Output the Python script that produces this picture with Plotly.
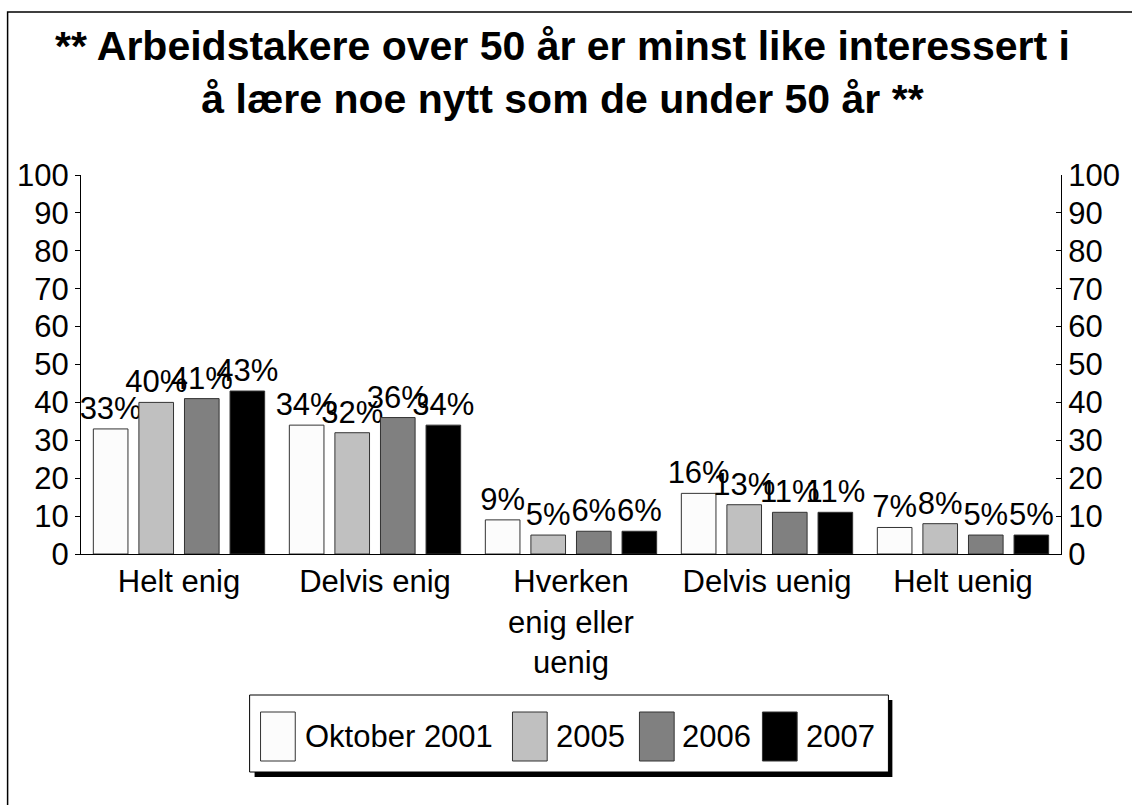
import plotly.graph_objects as go

# Survey answers, share of respondents (%)
categories = ["Helt enig", "Delvis enig", "Hverken<br>enig eller<br>uenig", "Delvis uenig", "Helt uenig"]
series_names = ["Oktober 2001", "2005", "2006", "2007"]
okt_2001 = [33, 34, 9, 16, 7]
y_2005 = [40, 32, 5, 13, 8]
y_2006 = [41, 36, 6, 11, 5]
y_2007 = [43, 34, 6, 11, 5]
y_ticks = [0, 10, 20, 30, 40, 50, 60, 70, 80, 90, 100]

series_values = [okt_2001, y_2005, y_2006, y_2007]
fills = ["#fcfcfc", "#c0c0c0", "#808080", "#000000"]

W, H = 1132, 805
L, R, T, B = 81, 1069, 175, 554
FONT = "Liberation Sans, Arial, sans-serif"
TXT = 31


def px(x):
    return (x - L) / (R - L)


def py(y):
    return (B - y) / (B - T)


fig = go.Figure()
for name, vals, col in zip(series_names, series_values, fills):
    fig.add_trace(go.Bar(
        x=categories, y=vals, name=name,
        marker=dict(color=col, line=dict(color="#333333", width=1)),
        text=[f"{v}%" for v in vals], textposition="outside",
        textfont=dict(family=FONT, size=TXT, color="black"),
        constraintext="none", cliponaxis=False, showlegend=False,
    ))

# invisible trace carrying the right-hand axis
fig.add_trace(go.Scatter(x=[categories[0]], y=[0], yaxis="y2", mode="markers",
                         marker=dict(opacity=0), showlegend=False, hoverinfo="skip"))

shapes = []
annotations = []

# outer frame
shapes.append(dict(type="rect", xref="paper", yref="paper",
                   x0=px(7), x1=px(1145), y0=py(820), y1=py(12),
                   line=dict(color="black", width=1.5), fillcolor="rgba(0,0,0,0)"))

# title
annotations.append(dict(
    text="<b>** Arbeidstakere over 50 år er minst like interessert i<br>å lære noe nytt som de under 50 år **</b>",
    x=px(566), y=py(21), xref="paper", yref="paper", xanchor="center", yanchor="top",
    showarrow=False, font=dict(family=FONT, size=41, color="black")))

# legend box with drop shadow
shapes.append(dict(type="rect", xref="paper", yref="paper",
                   x0=px(256), x1=px(899), y0=py(777), y1=py(700),
                   line=dict(width=0), fillcolor="black"))
shapes.append(dict(type="rect", xref="paper", yref="paper",
                   x0=px(251), x1=px(895), y0=py(772), y1=py(695),
                   line=dict(color="black", width=1), fillcolor="white"))

swatch_left = [262, 516, 644, 768]
text_left = [308, 561, 688, 813]
for name, col, sx, tx in zip(series_names, fills, swatch_left, text_left):
    shapes.append(dict(type="rect", xref="paper", yref="paper",
                       x0=px(sx), x1=px(sx + 35), y0=py(761), y1=py(712),
                       line=dict(color="#333333", width=1), fillcolor=col))
    annotations.append(dict(text=name, x=px(tx), y=py(736), xref="paper", yref="paper",
                            xanchor="left", yanchor="middle", showarrow=False,
                            xshift=-3, font=dict(family=FONT, size=TXT, color="black")))

axis_font = dict(family=FONT, size=TXT, color="black")
fig.update_layout(
    width=W, height=H,
    margin=dict(l=L, r=W - R, t=T, b=H - B, pad=0),
    paper_bgcolor="white", plot_bgcolor="white",
    barmode="group", bargap=0.07, bargroupgap=0.24,
    showlegend=False,
    xaxis=dict(showline=True, linecolor="black", linewidth=1, ticks="",
               tickfont=axis_font, showgrid=False, zeroline=False),
    yaxis=dict(range=[0, 100], tickvals=y_ticks, showline=True, linecolor="black",
               linewidth=1, ticks="outside", ticklen=5, tickcolor="black",
               tickfont=axis_font, showgrid=False, zeroline=False),
    yaxis2=dict(range=[0, 100], tickvals=y_ticks, overlaying="y", side="right",
                showline=True, linecolor="black", linewidth=1, ticks="inside",
                ticklen=5, tickcolor="black", tickfont=axis_font,
                showgrid=False, zeroline=False),
    shapes=shapes, annotations=annotations,
)

fig.write_html("out.html")
